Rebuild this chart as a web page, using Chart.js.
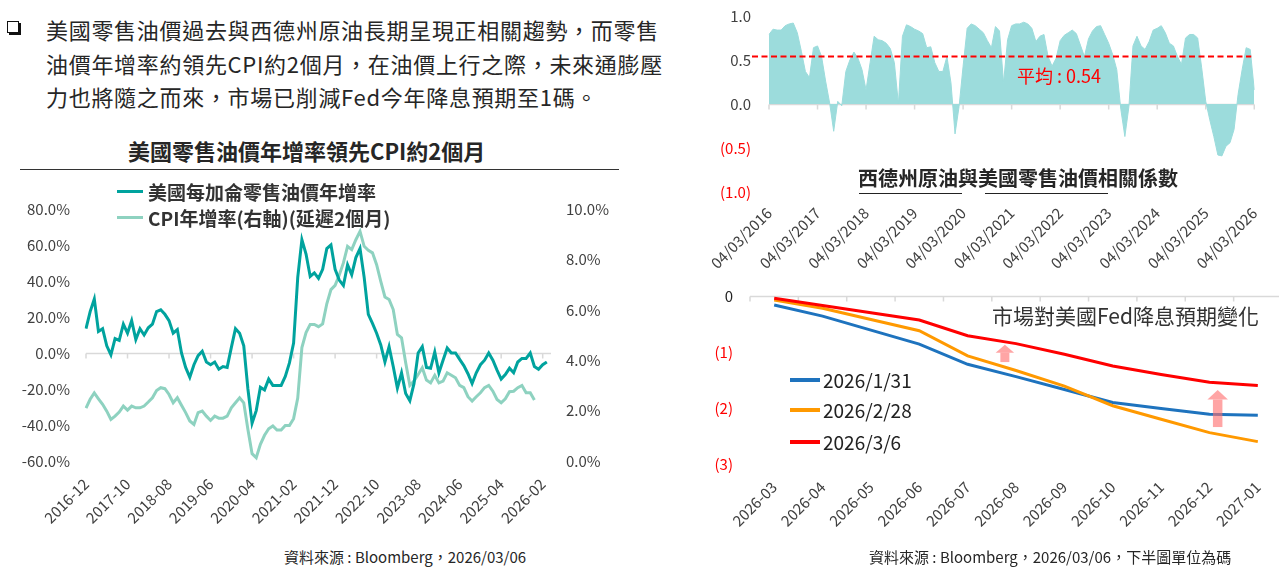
<!DOCTYPE html>
<html>
<head>
<meta charset="utf-8">
<script src="https://cdn.jsdelivr.net/npm/chart.js@4.4.1/dist/chart.umd.min.js"></script>
<style>
  body { margin:0; width:1279px; height:567px; overflow:hidden; background:#fff; position:relative;
         font-family:"Noto Sans CJK TC","Noto Sans",sans-serif; color:#262626; }
  .t { position:absolute; white-space:nowrap; line-height:1; }
  .bar { position:absolute; }
  canvas { position:absolute; }
</style>
</head>
<body>

<div class="bar" style="left:7px;top:21px;width:10px;height:10px;border:1.5px solid #111;box-shadow:2px 2px 0 #111"></div>
<div class="t" style="left:46px;top:13px;font-size:22px;letter-spacing:0.7px;line-height:33.5px;color:#262626">
美國零售油價過去與西德州原油長期呈現正相關趨勢，而零售<br>油價年增率約領先CPI約2個月，在油價上行之際，未來通膨壓<br>力也將隨之而來，市場已削減Fed今年降息預期至1碼。
</div>

<div class="t" style="left:128px;top:139px;font-size:22px;font-weight:bold;color:#262626">美國零售油價年增率領先CPI約2個月</div>
<div class="bar" style="left:20px;top:169px;width:599px;height:1px;background:#333"></div>

<canvas id="oilChart" width="640" height="345" style="left:0;top:190px"></canvas>
<div class="bar" style="left:117px;top:190px;width:26px;height:3px;background:#00A39E"></div>
<div class="t" style="left:148px;top:182px;font-size:19px;font-weight:bold;color:#333">美國每加侖零售油價年增率</div>
<div class="bar" style="left:117px;top:216px;width:26px;height:3px;background:#8ED2C0"></div>
<div class="t" style="left:148px;top:208px;font-size:19px;font-weight:bold;color:#333">CPI年增率(右軸)(延遲2個月)</div>
<div class="t" style="left:284px;top:549px;font-size:15px;color:#262626">資料來源 : Bloomberg，2026/03/06</div>

<canvas id="corrChart" width="579" height="285" style="left:700px;top:0"></canvas>
<div class="t" style="left:1017px;top:66px;font-size:18px;color:#ff0000">平均 : 0.54</div>
<div class="t" style="left:858px;top:168px;font-size:20px;font-weight:bold;color:#262626">西德州原油與美國零售油價相關係數</div>
<div class="bar" style="left:859px;top:193px;width:103px;height:1px;background:#222"></div>
<div class="bar" style="left:985px;top:193px;width:123px;height:1px;background:#222"></div>

<canvas id="fedChart" width="590" height="262" style="left:700px;top:285px"></canvas>
<div class="t" style="left:992px;top:305px;font-size:21px;color:#333">市場對美國Fed降息預期變化</div>
<div class="bar" style="left:790px;top:378px;width:30px;height:3.5px;background:#1E73BE"></div>
<div class="t" style="left:823px;top:370px;font-size:19px;color:#222">2026/1/31</div>
<div class="bar" style="left:790px;top:408px;width:30px;height:3.5px;background:#FF9900"></div>
<div class="t" style="left:823px;top:400px;font-size:19px;color:#222">2026/2/28</div>
<div class="bar" style="left:790px;top:440px;width:30px;height:3.5px;background:#FF0000"></div>
<div class="t" style="left:823px;top:432px;font-size:19px;color:#222">2026/3/6</div>
<div class="t" style="left:869px;top:549px;font-size:15px;color:#262626">資料來源 : Bloomberg，2026/03/06，下半圖單位為碼</div>

<script>
// ---- left chart: retail gasoline YoY vs CPI YoY (lagged 2 months) ----
const oilTickLabels = ['2016-12','2017-10','2018-08','2019-06','2020-04','2021-02',
  '2021-12','2022-10','2023-08','2024-06','2025-04','2026-02'];

const gasolineYoY = [13.5,23,30,12,13.5,4,-1,8,7,16,
  11,18,7.5,13.5,10,14,16,23,24,21.5,
  18,11,13,0,-8,-13.5,-6.5,-1.5,1,-5,
  -6.5,-5,-9,-7.5,-8,3,13.5,11,4,-20,
  -39,-32,-19,-20.5,-14.5,-18,-18,-18,-13,-5.5,
  5.5,42,63,55,42.5,44.5,41.5,46.5,58,60,
  46.5,40.5,37.5,49,43.5,53,58,42,21.5,16.5,
  11,4.5,-5,3.5,-7.5,-19.5,-11,-22.5,-26.5,-17,
  0,3.5,-8,-8.5,0.5,-11,-4,2.8,0,0,
  -3.5,-7,-11.5,-17,-11,-6.5,-4,0,-4,-9.5,
  -14.5,-12,-8.5,-11,-5,-3,-3,0,-7.5,-9,
  -6.5,-5];

const cpiYoYLag2 = [2.1,2.45,2.7,2.47,2.25,1.98,1.65,1.78,1.94,2.18,
  2.02,2.18,2.11,2.11,2.18,2.34,2.51,2.8,2.91,2.87,
  2.64,2.31,2.51,2.21,1.92,1.59,1.45,1.92,1.98,1.78,
  1.61,1.78,1.7,1.7,1.78,2.11,2.31,2.51,2.31,1.25,
  0.29,0.13,0.66,1.02,1.28,1.39,1.23,1.23,1.41,1.41,
  1.68,2.5,4.5,5.1,5.42,5.42,5.33,5.44,6.24,6.8,
  6.97,7.38,7.86,8.52,8.39,8.78,9.11,8.52,8.36,8.26,
  7.79,7.13,6.51,6.41,6.01,5.02,4.89,3.9,3.0,3.17,
  3.43,3.7,3.21,3.1,3.4,3.1,3.17,3.5,3.4,3.3,
  3.0,2.91,2.55,2.38,2.55,2.71,2.91,3.0,2.77,2.44,
  2.31,2.47,2.75,2.77,2.91,3.0,2.71,2.71,2.42];

// ---- top right: WTI vs retail gasoline correlation ----
const corrTickLabels = ['04/03/2016','04/03/2017','04/03/2018','04/03/2019','04/03/2020','04/03/2021',
  '04/03/2022','04/03/2023','04/03/2024','04/03/2025','04/03/2026'];

const wtiCorr = [0.79,0.85,0.84,0.84,0.89,0.91,0.92,0.81,0.60,0.37,
  0.30,0.64,0.66,0.54,0.26,0.01,-0.31,0.03,-0.02,0.37,
  0.50,0.59,0.52,0.39,0.16,0.47,0.77,0.73,0.72,0.69,
  0.63,0.47,0,0.77,0.90,0.88,0.85,0.83,0.80,0.64,
  0.65,0.47,0.37,0.37,0.54,0.24,-0.34,-0.03,0.43,0.86,
  0.91,0.89,0.85,0.81,0.72,0.64,0.88,0.83,0.24,0.73,
  0.89,0.91,0.91,0.93,0.91,0.86,0.71,0.77,0.79,0.54,
  0.43,0.52,0.72,0.78,0.81,0.84,0.80,0.67,0.54,0.74,
  0.83,0.88,0.89,0.79,0.69,0.56,0.39,-0.06,-0.37,-0.03,
  0.66,0.77,0.66,0.62,0.71,0.84,0.86,0.89,0.81,0.69,
  0.66,0.54,0.45,0.75,0.79,0.79,0.75,0.41,0.03,-0.18,
  -0.37,-0.58,-0.59,-0.48,-0.44,-0.29,0.11,0.39,0.64,0.62,0.16];
const corrAverage = 0.54;

// ---- bottom right: implied Fed cuts ----
const fedMonths = ['2026-03','2026-04','2026-05','2026-06','2026-07','2026-08',
  '2026-09','2026-10','2026-11','2026-12','2027-01'];
const cutsJan31 = [-0.16,-0.36,-0.61,-0.86,-1.22,-1.44,-1.67,-1.90,-2.01,-2.11,-2.13];
const cutsFeb28 = [-0.07,-0.22,-0.42,-0.62,-1.07,-1.33,-1.61,-1.96,-2.20,-2.44,-2.60];
const cutsMar06 = [-0.04,-0.17,-0.30,-0.43,-0.71,-0.85,-1.04,-1.25,-1.40,-1.54,-1.60];
// pink arrows: category position, from value, to value
const arrowNotes = [[4.77,-1.18,-0.87],[9.17,-2.34,-1.68]];

Chart.defaults.font.family = '"Noto Sans CJK TC","Noto Sans",sans-serif';
Chart.defaults.font.size = 15;
Chart.defaults.color = '#404040';
Chart.defaults.animation = false;

function monthSeq(y, m, n) {
  const out = [];
  for (let i = 0; i < n; i++) {
    out.push(y + '-' + String(m).padStart(2, '0'));
    m++; if (m > 12) { m = 1; y++; }
  }
  return out;
}

// grey line at value 0 with small down ticks
function zeroAxis(yId, marks) {
  return {
    id: 'zeroAxis',
    beforeDatasetsDraw(chart) {
      const x = chart.scales.x, y = chart.scales[yId], a = chart.chartArea;
      const py = Math.round(y.getPixelForValue(0)) + 0.5;
      const ctx = chart.ctx;
      ctx.save();
      ctx.strokeStyle = '#d9d9d9';
      ctx.lineWidth = 1.5;
      ctx.beginPath();
      ctx.moveTo(a.left, py); ctx.lineTo(a.right, py);
      marks.forEach(v => {
        const px = x.getPixelForValue(v);
        ctx.moveTo(px, py); ctx.lineTo(px, py + 5);
      });
      ctx.stroke();
      ctx.restore();
    }
  };
}

const noGrid = { display: false, drawTicks: false };
const noBorder = { display: false };
// y axes: gap between labels and plot via an invisible tick length (keeps top padding small)
const gap = n => ({ display: false, drawTicks: true, tickLength: n });

// left chart
const oilMonths = monthSeq(2016, 12, 113);
new Chart(document.getElementById('oilChart'), {
  type: 'line',
  data: {
    labels: oilMonths,
    datasets: [
      { label: '美國每加侖零售油價年增率', data: gasolineYoY, yAxisID: 'y',
        borderColor: '#00A39E', borderWidth: 3, pointRadius: 0, tension: 0 },
      { label: 'CPI年增率(右軸)(延遲2個月)', data: cpiYoYLag2, yAxisID: 'y1',
        borderColor: '#8ED2C0', borderWidth: 3, pointRadius: 0, tension: 0 }
    ]
  },
  options: {
    responsive: false,
    layout: { padding: { top: 19, left: 0, right: 0, bottom: 0 } },
    plugins: { legend: { display: false }, tooltip: { enabled: false } },
    scales: {
      x: { type: 'category', offset: false, grid: noGrid, border: noBorder,
           afterFit(s) { s.height = 74; },
           ticks: { autoSkip: false, minRotation: 45, maxRotation: 45, padding: 14,
                    callback: (v, i) => i % 10 === 0 ? oilTickLabels[i / 10] : '' } },
      y: { position: 'left', min: -60, max: 80, grid: gap(16), border: noBorder,
           afterFit(s) { s.width = 86; },
           ticks: { stepSize: 20, padding: 0, callback: v => v.toFixed(1) + '%' } },
      y1: { position: 'right', min: 0, max: 10, grid: gap(15), border: noBorder,
            afterFit(s) { s.width = 89; },
            ticks: { stepSize: 2, padding: 0, callback: v => v.toFixed(1) + '%' } }
    }
  },
  plugins: [zeroAxis('y', [0,10,20,30,40,50,60,70,80,90,100,110])]
});

// top right chart
const corrMonths = monthSeq(2016, 3, 121);
const avgLine = {
  id: 'avgLine',
  afterDatasetsDraw(chart) {
    const y = chart.scales.y, a = chart.chartArea, ctx = chart.ctx;
    const py = y.getPixelForValue(corrAverage);
    ctx.save();
    ctx.strokeStyle = '#ff0000';
    ctx.lineWidth = 2;
    ctx.setLineDash([6, 3.5]);
    ctx.beginPath();
    ctx.moveTo(a.left - 17, py); ctx.lineTo(a.right - 3, py);
    ctx.stroke();
    ctx.restore();
  }
};
new Chart(document.getElementById('corrChart'), {
  type: 'line',
  data: {
    labels: corrMonths,
    datasets: [{ label: '相關係數', data: wtiCorr, fill: 'origin',
      backgroundColor: '#9CDCDC', borderColor: '#9CDCDC', borderWidth: 1,
      pointRadius: 0, tension: 0 }]
  },
  options: {
    responsive: false,
    layout: { padding: { top: 16, right: 10, left: 0, bottom: 0 } },
    plugins: { legend: { display: false }, tooltip: { enabled: false } },
    scales: {
      x: { type: 'category', offset: false, grid: noGrid, border: noBorder,
           afterFit(s) { s.height = 93; },
           ticks: { autoSkip: false, minRotation: 45, maxRotation: 45, padding: 12,
                    callback: (v, i) => i % 12 === 0 ? corrTickLabels[i / 12] : '' } },
      y: { min: -1, max: 1, grid: gap(18), border: noBorder,
           afterFit(s) { s.width = 69; },
           ticks: { stepSize: 0.5, padding: 0,
                    color: c => c.tick.value < 0 ? '#ff0000' : '#404040',
                    callback: v => v < 0 ? '(' + Math.abs(v).toFixed(1) + ')' : v.toFixed(1) } }
    }
  },
  plugins: [zeroAxis('y', [0,12,24,36,48,60,72,84,96,108,120]), avgLine]
});

// bottom right chart
const arrows = {
  id: 'arrows',
  afterDatasetsDraw(chart) {
    const x = chart.scales.x, y = chart.scales.y, ctx = chart.ctx;
    ctx.save();
    ctx.fillStyle = 'rgba(255,110,110,0.62)';
    arrowNotes.forEach(([at, from, to]) => {
      const px = x.getPixelForValue(at);
      const yb = y.getPixelForValue(from), yt = y.getPixelForValue(to);
      const big = (yb - yt) > 25;
      const sw = big ? 9.5 : 9, hw = big ? 20.5 : 18.5, hh = big ? 9.5 : 8;
      ctx.fillRect(px - sw / 2, yt + hh, sw, yb - yt - hh);
      ctx.beginPath();
      ctx.moveTo(px - hw / 2, yt + hh); ctx.lineTo(px, yt); ctx.lineTo(px + hw / 2, yt + hh);
      ctx.closePath(); ctx.fill();
    });
    ctx.restore();
  }
};
const fedBounds = fedMonths.map((m, i) => i - 0.5).concat([fedMonths.length - 0.5]);
new Chart(document.getElementById('fedChart'), {
  type: 'line',
  data: {
    labels: fedMonths,
    datasets: [
      { label: '2026/1/31', data: cutsJan31, borderColor: '#1E73BE', borderWidth: 3,
        pointRadius: 0, tension: 0, order: 3 },
      { label: '2026/2/28', data: cutsFeb28, borderColor: '#FF9900', borderWidth: 3,
        pointRadius: 0, tension: 0, order: 2 },
      { label: '2026/3/6', data: cutsMar06, borderColor: '#FF0000', borderWidth: 3,
        pointRadius: 0, tension: 0, order: 1 }
    ]
  },
  options: {
    responsive: false,
    layout: { padding: { top: 11, right: 8, left: 0, bottom: 0 } },
    plugins: { legend: { display: false }, tooltip: { enabled: false } },
    scales: {
      x: { type: 'category', offset: true, grid: noGrid, border: noBorder,
           afterFit(s) { s.height = 83; },
           ticks: { autoSkip: false, minRotation: 45, maxRotation: 45, padding: 14 } },
      y: { min: -3, max: 0, grid: gap(17), border: noBorder,
           afterFit(s) { s.width = 50; },
           ticks: { stepSize: 1, padding: 0,
                    color: c => c.tick.value < 0 ? '#ff0000' : '#222',
                    callback: v => v < 0 ? '(' + Math.abs(v) + ')' : '0' } }
    }
  },
  plugins: [zeroAxis('y', fedBounds), arrows]
});
</script>
</body>
</html>
